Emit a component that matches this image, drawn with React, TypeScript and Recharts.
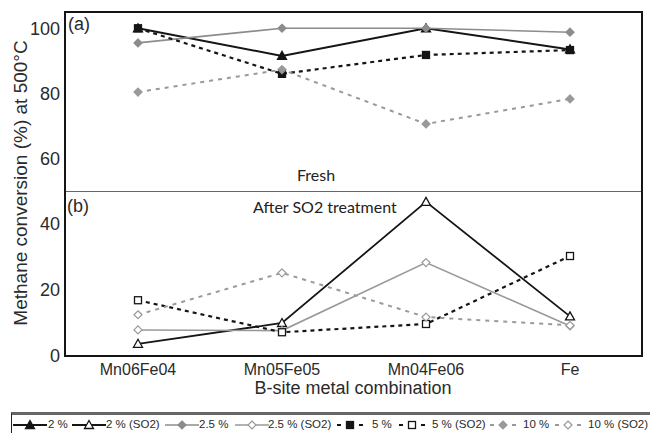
import React from "react";
import { LineChart, Line, XAxis, YAxis } from "recharts";

const categories = ["Mn06Fe04", "Mn05Fe05", "Mn04Fe06", "Fe"];

// (a) fresh catalysts
const fresh2 = [100, 91.5, 100, 93.5];
const fresh25 = [95.5, 100, 100, 98.8];
const fresh5 = [100, 86, 91.8, 93.3];
const fresh10 = [80.4, 87.3, 70.6, 78.3];

// (b) after SO2 treatment
const so2x2 = [3.7, 10, 46.7, 12];
const so2x25 = [7.9, 7.7, 28.3, 9.1];
const so2x5 = [16.9, 7.2, 9.7, 30.3];
const so2x10 = [12.5, 25.2, 11.8, 9.3];

const freshTicks = [60, 80, 100];
const so2Ticks = [0, 20, 40];

const FONT = "'Liberation Sans', Arial, sans-serif";
const BLACK = "#151515";
const GRAY = "#8c8c8c";
const TEXT = "#2a2a2a";

type Shape = "triangle" | "square" | "diamond";

interface Series {
  key: string;
  name: string;
  color: string;
  dash?: string;
  shape: Shape;
  filled: boolean;
  width: number;
}

const freshSeries: Series[] = [
  { key: "p2", name: "2 %", color: BLACK, shape: "triangle", filled: true, width: 2 },
  { key: "p25", name: "2.5 %", color: GRAY, shape: "diamond", filled: true, width: 1.6 },
  { key: "p5", name: "5 %", color: BLACK, dash: "4 4", shape: "square", filled: true, width: 2.2 },
  { key: "p10", name: "10 %", color: "#999", dash: "4 5", shape: "diamond", filled: true, width: 2 },
];

const so2Series: Series[] = [
  { key: "s2", name: "2 % (SO2)", color: BLACK, shape: "triangle", filled: false, width: 1.8 },
  { key: "s25", name: "2.5 % (SO2)", color: "#999", shape: "diamond", filled: false, width: 1.6 },
  { key: "s5", name: "5 % (SO2)", color: BLACK, dash: "4 4", shape: "square", filled: false, width: 2.2 },
  { key: "s10", name: "10 % (SO2)", color: "#9a9a9a", dash: "4 5", shape: "diamond", filled: false, width: 2 },
];

const freshData = categories.map((c, i) => ({
  name: c,
  p2: fresh2[i],
  p25: fresh25[i],
  p5: fresh5[i],
  p10: fresh10[i],
}));

const so2Data = categories.map((c, i) => ({
  name: c,
  s2: so2x2[i],
  s25: so2x25[i],
  s5: so2x5[i],
  s10: so2x10[i],
}));

function Marker({ cx, cy, s }: { cx: number; cy: number; s: Series }) {
  const fill = s.filled ? s.color : "#fff";
  const stroke = s.color;
  if (s.shape === "triangle") {
    return (
      <polygon
        points={`${cx},${cy - 4.5} ${cx + 4.5},${cy + 3.5} ${cx - 4.5},${cy + 3.5}`}
        fill={fill}
        stroke={stroke}
        strokeWidth={1.3}
      />
    );
  }
  if (s.shape === "square") {
    return <rect x={cx - 3.5} y={cy - 3.5} width={7} height={7} fill={fill} stroke={stroke} strokeWidth={1.3} />;
  }
  return (
    <polygon
      points={`${cx},${cy - 4} ${cx + 4},${cy} ${cx},${cy + 4} ${cx - 4},${cy}`}
      fill={fill}
      stroke={stroke}
      strokeWidth={1.2}
    />
  );
}

function renderLine(s: Series) {
  return (
    <Line
      key={s.key}
      dataKey={s.key}
      name={s.name}
      stroke={s.color}
      strokeWidth={s.width}
      strokeDasharray={s.dash}
      isAnimationActive={false}
      dot={(p: any) => <Marker key={`${s.key}-${p.index}`} cx={p.cx} cy={p.cy} s={s} />}
      activeDot={false}
    />
  );
}

function LegendIcon({ s }: { s: Series }) {
  const w = s.dash ? 30 : 34;
  const c = w / 2;
  return (
    <svg width={w} height={12} style={{ display: "block" }}>
      {s.dash ? (
        <>
          <line x1={2} y1={6} x2={6} y2={6} stroke={s.color} strokeWidth={2} />
          <line x1={w - 6} y1={6} x2={w - 2} y2={6} stroke={s.color} strokeWidth={2} />
        </>
      ) : (
        <line x1={0} y1={6} x2={w} y2={6} stroke={s.color} strokeWidth={s.width} />
      )}
      <Marker cx={c} cy={6} s={s} />
    </svg>
  );
}

const legendOrder: Series[] = [
  freshSeries[0], so2Series[0], freshSeries[1], so2Series[1],
  freshSeries[2], so2Series[2], freshSeries[3], so2Series[3],
];
// left edges of each legend entry (icon, label)
const legendIconX = [13, 72, 165, 235, 335, 397, 488, 553];
const legendTextX = [48, 106, 199, 268, 372, 432, 523, 588];

export default function App() {
  const tickStyle = { fill: TEXT, fontSize: 18, fontFamily: FONT };
  return (
    <div style={{ position: "absolute", left: 0, top: 0, width: 650, height: 433, background: "#fff", overflow: "hidden", fontFamily: FONT }}>
      <div style={{ position: "absolute", left: 0, top: 0 }}>
        <LineChart width={650} height={191} data={freshData} margin={{ top: 12, right: 7, left: 0, bottom: 0 }}>
          <XAxis dataKey="name" hide padding={{ left: 73, right: 73 }} />
          <YAxis
            width={65}
            domain={[50, 105]}
            ticks={freshTicks}
            axisLine={false}
            tickLine={false}
            tickSize={3}
            tick={tickStyle}
          />
          {freshSeries.map(renderLine)}
        </LineChart>
      </div>
      <div style={{ position: "absolute", left: 0, top: 191 }}>
        <LineChart width={650} height={190} data={so2Data} margin={{ top: 0, right: 7, left: 0, bottom: 0 }}>
          <XAxis
            dataKey="name"
            height={25}
            padding={{ left: 73, right: 73 }}
            axisLine={false}
            tickLine={false}
            tick={{ fill: TEXT, fontSize: 16, fontFamily: FONT }}
          />
          <YAxis
            width={65}
            domain={[0, 50]}
            ticks={so2Ticks}
            axisLine={false}
            tickLine={false}
            tickSize={3}
            tick={tickStyle}
          />
          {so2Series.map(renderLine)}
        </LineChart>
      </div>

      {/* frame and panel divider */}
      <div style={{ position: "absolute", left: 64, top: 11, width: 579, height: 346, border: `2px solid ${BLACK}`, boxSizing: "border-box", pointerEvents: "none" }} />
      <div style={{ position: "absolute", left: 66, top: 191, width: 575, borderTop: "1.5px solid #666" }} />

      {/* panel annotations */}
      <div style={{ position: "absolute", left: 68, top: 14, fontSize: 18, color: TEXT }}>(a)</div>
      <div style={{ position: "absolute", left: 67, top: 196, fontSize: 18, color: TEXT }}>(b)</div>
      <div style={{ position: "absolute", left: 297, top: 165, fontSize: 16, color: "#222", fontFamily: "Lato, sans-serif" }}>Fresh</div>
      <div style={{ position: "absolute", left: 253, top: 197, fontSize: 16, color: "#222", fontFamily: "Lato, sans-serif" }}>After SO2 treatment</div>

      {/* axis titles */}
      <div style={{ position: "absolute", left: 21, top: 183, transform: "translate(-50%, -50%) rotate(-90deg)", whiteSpace: "nowrap", fontSize: 19, color: TEXT }}>
        Methane conversion (%) at 500°C
      </div>
      <div style={{ position: "absolute", left: 353, top: 388, transform: "translate(-50%, -50%)", whiteSpace: "nowrap", fontSize: 18, color: TEXT }}>
        B-site metal combination
      </div>

      {/* legend */}
      <div style={{ position: "absolute", left: 11, top: 412, width: 660, height: 30, borderTop: "3px solid #666", borderLeft: "1px solid #222", boxSizing: "border-box" }} />
      {legendOrder.map((s, i) => (
        <React.Fragment key={s.key}>
          <div style={{ position: "absolute", left: legendIconX[i], top: 419 }}>
            <LegendIcon s={s} />
          </div>
          <div style={{ position: "absolute", left: legendTextX[i], top: 418, fontSize: 11.5, color: TEXT, whiteSpace: "nowrap" }}>
            {s.name}
          </div>
        </React.Fragment>
      ))}
    </div>
  );
}
